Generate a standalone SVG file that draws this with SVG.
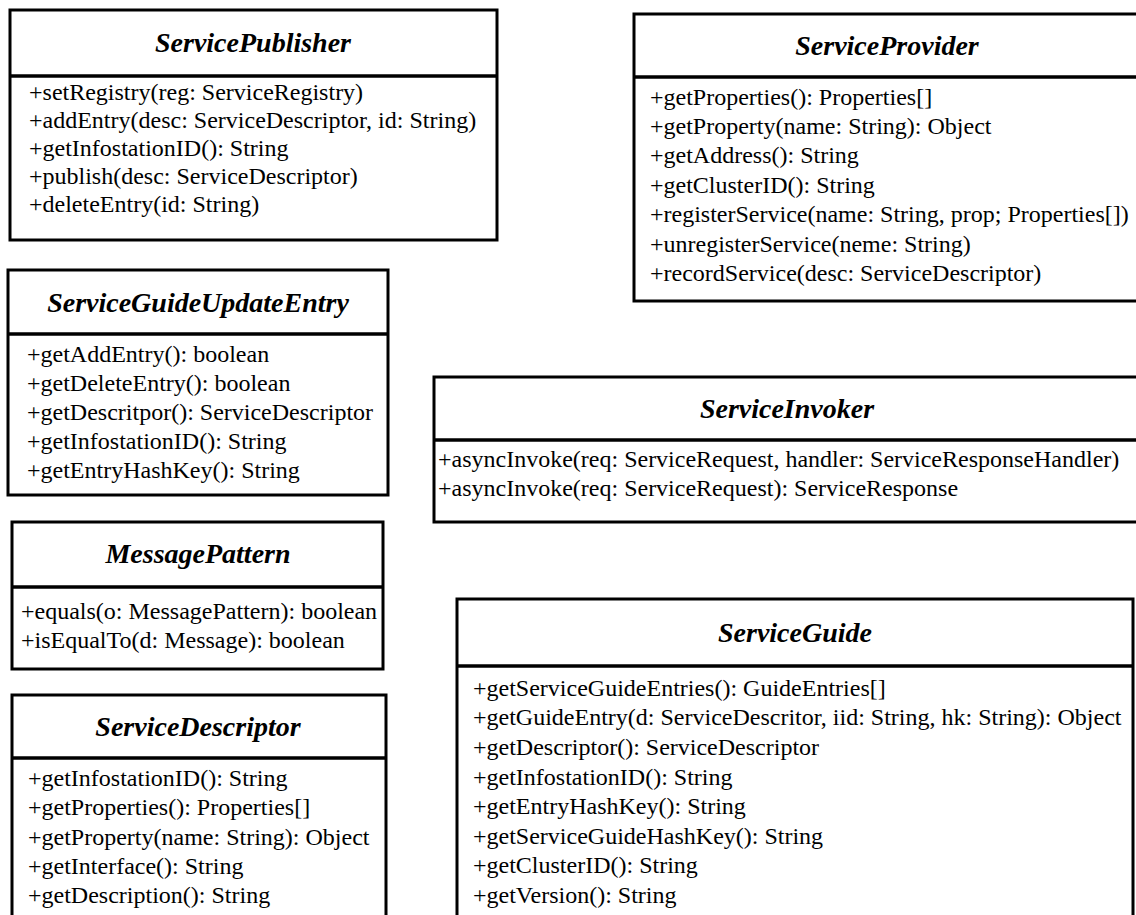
<svg xmlns="http://www.w3.org/2000/svg" width="1136" height="915" viewBox="0 0 1136 915">
<style>
.box{fill:#fff;stroke:#000;stroke-width:3}
.sep{stroke:#000;stroke-width:3.5}
.t{font-family:"Liberation Serif","Times New Roman",serif;font-size:28px;font-weight:bold;font-style:italic;text-anchor:middle;fill:#000}
.m{font-family:"Liberation Serif","Times New Roman",serif;font-size:24px;fill:#000}
</style>
<rect width="1136" height="915" fill="#fff"/>
<g id="ServicePublisher">
<rect class="box" x="10" y="10" width="487" height="230"/>
<line class="sep" x1="10" y1="76" x2="497" y2="76"/>
<text class="t" x="253" y="52">ServicePublisher</text>
<text class="m" x="29" y="100">+setRegistry(reg: ServiceRegistry)</text>
<text class="m" x="29" y="128">+addEntry(desc: ServiceDescriptor, id: String)</text>
<text class="m" x="29" y="156">+getInfostationID(): String</text>
<text class="m" x="29" y="184">+publish(desc: ServiceDescriptor)</text>
<text class="m" x="29" y="212">+deleteEntry(id: String)</text>
</g>
<g id="ServiceProvider">
<rect class="box" x="634" y="14" width="510" height="287"/>
<line class="sep" x1="634" y1="77" x2="1144" y2="77"/>
<text class="t" x="887" y="55">ServiceProvider</text>
<text class="m" x="650" y="105">+getProperties(): Properties[]</text>
<text class="m" x="650" y="134">+getProperty(name: String): Object</text>
<text class="m" x="650" y="163">+getAddress(): String</text>
<text class="m" x="650" y="193">+getClusterID(): String</text>
<text class="m" x="650" y="222">+registerService(name: String, prop; Properties[])</text>
<text class="m" x="650" y="252">+unregisterService(neme: String)</text>
<text class="m" x="650" y="281">+recordService(desc: ServiceDescriptor)</text>
</g>
<g id="ServiceGuideUpdateEntry">
<rect class="box" x="8" y="270" width="380" height="225"/>
<line class="sep" x1="8" y1="334" x2="388" y2="334"/>
<text class="t" x="198" y="312">ServiceGuideUpdateEntry</text>
<text class="m" x="27" y="362">+getAddEntry(): boolean</text>
<text class="m" x="27" y="391">+getDeleteEntry(): boolean</text>
<text class="m" x="27" y="420">+getDescritpor(): ServiceDescriptor</text>
<text class="m" x="27" y="449">+getInfostationID(): String</text>
<text class="m" x="27" y="478">+getEntryHashKey(): String</text>
</g>
<g id="ServiceInvoker">
<rect class="box" x="434" y="377" width="710" height="145"/>
<line class="sep" x1="434" y1="440" x2="1144" y2="440"/>
<text class="t" x="787" y="418">ServiceInvoker</text>
<text class="m" x="438" y="467">+asyncInvoke(req: ServiceRequest, handler: ServiceResponseHandler)</text>
<text class="m" x="438" y="496">+asyncInvoke(req: ServiceRequest): ServiceResponse</text>
</g>
<g id="MessagePattern">
<rect class="box" x="12" y="522" width="371" height="147"/>
<line class="sep" x1="12" y1="587" x2="383" y2="587"/>
<text class="t" x="198" y="563">MessagePattern</text>
<text class="m" x="21" y="619">+equals(o: MessagePattern): boolean</text>
<text class="m" x="21" y="648">+isEqualTo(d: Message): boolean</text>
</g>
<g id="ServiceDescriptor">
<rect class="box" x="12" y="695" width="374" height="240"/>
<line class="sep" x1="12" y1="758" x2="386" y2="758"/>
<text class="t" x="198" y="736">ServiceDescriptor</text>
<text class="m" x="28" y="786">+getInfostationID(): String</text>
<text class="m" x="28" y="815">+getProperties(): Properties[]</text>
<text class="m" x="28" y="845">+getProperty(name: String): Object</text>
<text class="m" x="28" y="874">+getInterface(): String</text>
<text class="m" x="28" y="903">+getDescription(): String</text>
</g>
<g id="ServiceGuide">
<rect class="box" x="457" y="599" width="676" height="340"/>
<line class="sep" x1="457" y1="666" x2="1133" y2="666"/>
<text class="t" x="795" y="642">ServiceGuide</text>
<text class="m" x="473" y="696">+getServiceGuideEntries(): GuideEntries[]</text>
<text class="m" x="473" y="725">+getGuideEntry(d: ServiceDescritor, iid: String, hk: String): Object</text>
<text class="m" x="473" y="755">+getDescriptor(): ServiceDescriptor</text>
<text class="m" x="473" y="785">+getInfostationID(): String</text>
<text class="m" x="473" y="814">+getEntryHashKey(): String</text>
<text class="m" x="473" y="844">+getServiceGuideHashKey(): String</text>
<text class="m" x="473" y="873">+getClusterID(): String</text>
<text class="m" x="473" y="903">+getVersion(): String</text>
</g>
<g id="connectors"></g>
</svg>
